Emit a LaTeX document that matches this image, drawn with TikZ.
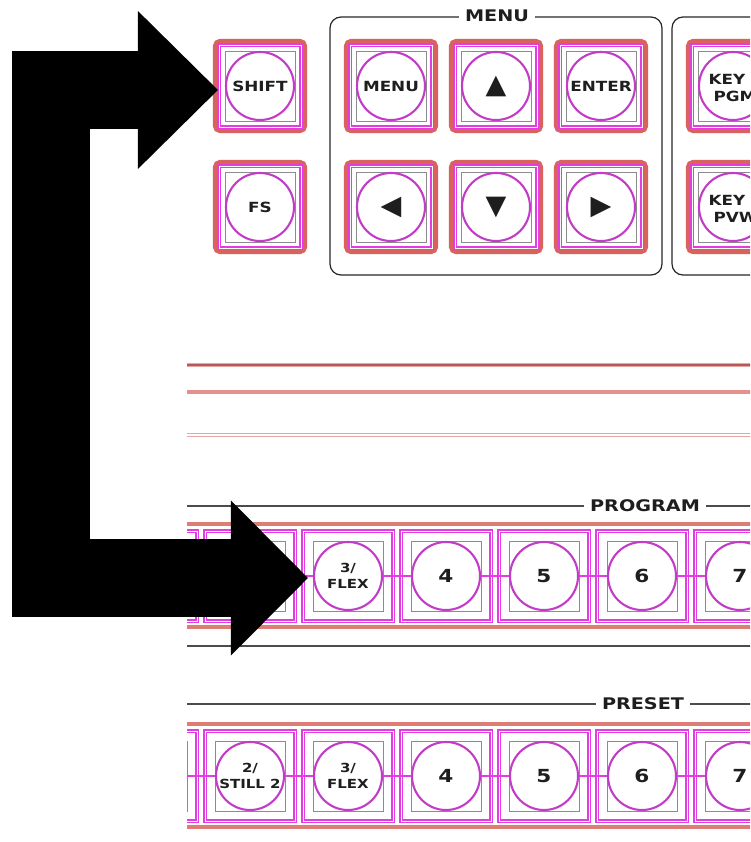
\documentclass[tikz,border=0pt]{standalone}
\usepackage{fontspec}
\usetikzlibrary{arrows.meta}
\newfontfamily\panelfont[FakeStretch=1.2]{DejaVu Sans}
\newfontfamily\symbfont{DejaVu Sans}
\definecolor{keyred}{HTML}{D9625E}
\definecolor{keymag}{HTML}{E23CE2}
\definecolor{capmag}{HTML}{C23CC8}
\definecolor{guidegray}{HTML}{8C8C8C}
\definecolor{inkgray}{HTML}{1E1E1E}
\definecolor{rulered}{HTML}{E07C76}
\definecolor{rulepink}{HTML}{E8A4A2}
\definecolor{ruledark}{HTML}{B45A58}
\begin{document}
\begin{tikzpicture}[x=1pt,y=-1pt,
  every node/.style={font=\panelfont\bfseries\fontsize{14}{17}\selectfont,text=inkgray},
  keycap/.style={circle,draw=capmag,line width=2.1pt,fill=white,minimum size=68pt,inner sep=0pt,align=center},
  keyguide/.style={draw=guidegray,line width=0.6pt,minimum size=70pt,inner sep=0pt},
  keyframe/.style={draw=keymag,line width=1.2pt,double=white,double distance=0.9pt,minimum size=82pt,inner sep=0pt},
  keyrim/.style={draw=keyred,line width=4.2pt,rounded corners=5pt,minimum size=90pt,inner sep=0pt},
  rowframe/.style={draw=keymag,line width=1.2pt,double=white,double distance=0.9pt,minimum size=90pt,inner sep=0pt},
  redrule/.style={draw=rulered,line width=3.2pt},
  grayrule/.style={draw=black!70,line width=1.3pt},
  magwire/.style={draw=keymag,line width=1.6pt},
  panelbox/.style={draw=black!85,line width=1.2pt,rounded corners=11pt},
  title/.style={fill=white,inner xsep=6pt,inner ysep=1pt,font=\panelfont\bfseries\fontsize{16}{18}\selectfont},
  arrowsym/.style={font=\symbfont\fontsize{27}{27}\selectfont},
  digit/.style={font=\panelfont\bfseries\fontsize{18}{20}\selectfont},
  small/.style={font=\panelfont\bfseries\fontsize{12.5}{15.5}\selectfont},
  bigarrow/.style={draw=black,line width=78pt,{Triangle[length=80pt,width=158pt,line width=0pt]}-{Triangle[length=77pt,width=155pt,line width=0pt]}}]
  \useasboundingbox (0,0) rectangle (750,842);
  \clip (0,0) rectangle (750,842);
  % menu group and the next group
  \draw[panelbox] (330,17) rectangle (662,275);
  \node[title] (menutitle) at (497,16) {MENU};
  \draw[panelbox] (770,17) -| (672,275) -- (770,275);
  % top keys
  \foreach \x/\y/\name in {260/86/shift,260/207/fs,391/86/menu,496/86/up,601/86/enter,
      391/207/left,496/207/down,601/207/right,733/86/keypgm,733/207/keypvw}{
    \node[keyrim] (\name-rim) at (\x,\y) {};
    \node[keyframe] (\name-frame) at (\x,\y) {};
    \node[keyguide] (\name-guide) at (\x,\y) {};
  }
  \node[keycap] (shift) at (shift-rim) {SHIFT};
  \node[keycap] (fs) at (fs-rim) {FS};
  \node[keycap] (menu) at (menu-rim) {MENU};
  \node[keycap,arrowsym] (up) at (up-rim) {▲};
  \node[keycap] (enter) at (enter-rim) {ENTER};
  \node[keycap,arrowsym] (left) at (left-rim) {◀};
  \node[keycap,arrowsym] (down) at (down-rim) {▼};
  \node[keycap,arrowsym] (right) at (right-rim) {▶};
  \node[keycap] (keypgm) at (keypgm-rim) {};
  \node[anchor=west,align=left] (keypgmtxt) at (705,88) {KEY\\\hspace*{5pt}PGM};
  \node[keycap] (keypvw) at (keypvw-rim) {};
  \node[anchor=west,align=left] (keypvwtxt) at (705,209) {KEY\\\hspace*{5pt}PVW};
  % middle rules
  \draw[draw=rulepink,line width=3.4pt] (187,365) -- (770,365);
  \draw[draw=ruledark,line width=1.2pt] (187,365) -- (770,365);
  \draw[draw=rulered!85,line width=3.6pt] (187,392) -- (770,392);
  \draw[draw=rulepink,line width=1.1pt,double=white,double distance=2.4pt] (187,435) -- (770,435);
  % program and preset rows
  \begin{scope}
    \clip (187,480) rectangle (770,842);
    \draw[grayrule] (187,506) -- (770,506);
    \draw[redrule] (187,524) -- (770,524);
    \draw[redrule] (187,627) -- (770,627);
    \draw[grayrule] (187,646) -- (770,646);
    \draw[grayrule] (187,704) -- (770,704);
    \draw[redrule] (187,724) -- (770,724);
    \draw[redrule] (187,827) -- (770,827);
    \foreach \x/\n in {152/a,250/b,348/c,446/d,544/e,642/f,740/g}{
      \node[rowframe] (pgm\n-frame) at (\x,576) {};
      \node[keyguide] (pgm\n-guide) at (\x,576) {};
      \node[rowframe] (pst\n-frame) at (\x,776) {};
      \node[keyguide] (pst\n-guide) at (\x,776) {};
    }
    \draw[magwire] (pgma-frame.center) -- (pgmg-frame.center);
    \draw[magwire] (psta-frame.center) -- (pstg-frame.center);
    \node[keycap] (pgma) at (pgma-frame) {};
    \node[keycap] (pgmb) at (pgmb-frame) {};
    \node[keycap,small] (pgmc) at (pgmc-frame) {3/\\FLEX};
    \node[keycap,digit] (pgmd) at (pgmd-frame) {4};
    \node[keycap,digit] (pgme) at (pgme-frame) {5};
    \node[keycap,digit] (pgmf) at (pgmf-frame) {6};
    \node[keycap,digit] (pgmg) at (pgmg-frame) {7};
    \node[keycap] (psta) at (psta-frame) {};
    \node[keycap,small] (pstb) at (pstb-frame) {2/\\STILL 2};
    \node[keycap,small] (pstc) at (pstc-frame) {3/\\FLEX};
    \node[keycap,digit] (pstd) at (pstd-frame) {4};
    \node[keycap,digit] (pste) at (pste-frame) {5};
    \node[keycap,digit] (pstf) at (pstf-frame) {6};
    \node[keycap,digit] (pstg) at (pstg-frame) {7};
  \end{scope}
  \node[title] (programtitle) at (645,506) {PROGRAM};
  \node[title] (presettitle) at (643,704) {PRESET};
  % shift + flex arrow
  \draw[bigarrow] ([xshift=5pt,yshift=-4pt]shift-rim.west) -- ++(-166.5,0) |- ([xshift=-5pt,yshift=-2pt]pgmc.west);
\end{tikzpicture}
\end{document}
